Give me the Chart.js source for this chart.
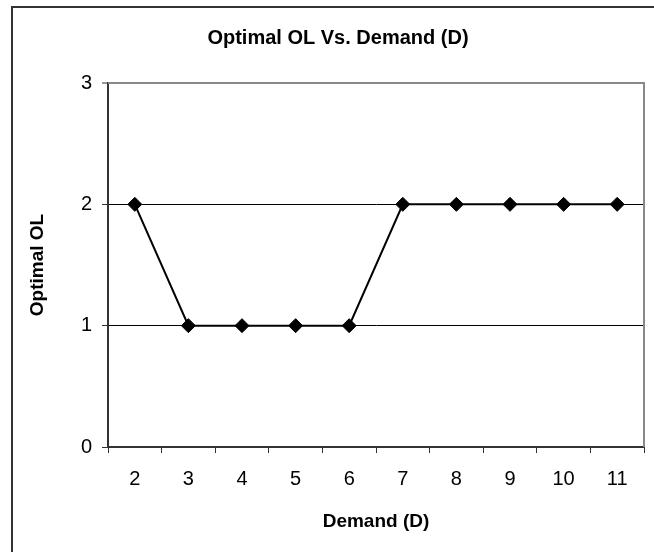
<!DOCTYPE html>
<html>
<head>
<meta charset="utf-8">
<script src="https://cdn.jsdelivr.net/npm/chart.js@4"></script>
<style>
  html, body { margin: 0; padding: 0; background: #fff; }
  canvas { display: block; }
</style>
</head>
<body>
<canvas id="grafico" width="654" height="552"></canvas>
<script>
// demanda (eje x) y OL optimo (eje y)
const demanda = ['2', '3', '4', '5', '6', '7', '8', '9', '10', '11'];
const olOptimo = [2, 1, 1, 1, 1, 2, 2, 2, 2, 2];
const ticksY = [0, 1, 2, 3];

const titulo = 'Optimal OL Vs. Demand (D)';
const tituloX = 'Demand (D)';
const tituloY = 'Optimal OL';

const fuente = 'Arial, "Liberation Sans", sans-serif';

// marco exterior, borde gris del area y titulo
const marco = {
  id: 'marco',
  beforeDraw(chart) {
    const c = chart.ctx;
    c.save();
    c.fillStyle = '#fff';
    c.fillRect(0, 0, chart.width, chart.height);
    c.fillStyle = '#333';
    c.fillRect(11, 6, 2, chart.height - 6);
    c.fillRect(11, 6, chart.width - 11, 2);
    c.restore();
  },
  beforeDatasetsDraw(chart) {
    const a = chart.chartArea;
    const c = chart.ctx;
    c.save();
    c.strokeStyle = '#888';
    c.lineWidth = 2;
    c.beginPath();
    c.moveTo(a.left, a.top);
    c.lineTo(a.right, a.top);
    c.lineTo(a.right, a.bottom);
    c.stroke();
    c.restore();
  },
  afterDraw(chart) {
    const c = chart.ctx;
    c.save();
    c.fillStyle = '#000';
    c.font = 'bold 20px ' + fuente;
    c.textAlign = 'center';
    c.textBaseline = 'middle';
    c.fillText(titulo, 338, 38);
    c.restore();
  }
};

new Chart(document.getElementById('grafico'), {
  type: 'line',
  data: {
    labels: demanda,
    datasets: [{
      data: olOptimo,
      borderColor: '#000',
      backgroundColor: '#000',
      borderWidth: 2,
      pointStyle: 'rectRot',
      pointRadius: 7,
      pointBorderWidth: 1,
      pointBackgroundColor: '#000',
      pointBorderColor: '#000',
      tension: 0,
      fill: false
    }]
  },
  options: {
    responsive: false,
    animation: false,
    layout: { padding: { left: 0, right: 10, top: 83, bottom: 0 } },
    plugins: {
      legend: { display: false },
      tooltip: { enabled: false }
    },
    scales: {
      x: {
        offset: true,
        afterFit(s) { s.height = 105; },
        grid: {
          offset: true,
          drawOnChartArea: false,
          drawTicks: true,
          tickLength: 6,
          tickColor: '#333',
          tickWidth: 1
        },
        border: { display: true, color: '#333', width: 2 },
        ticks: {
          color: '#000',
          font: { family: fuente, size: 20 },
          padding: 14,
          maxRotation: 0
        },
        title: {
          display: true,
          text: tituloX,
          color: '#000',
          font: { family: fuente, size: 19, weight: 'bold' },
          padding: { top: 0, bottom: 19 }
        }
      },
      y: {
        min: 0,
        max: 3,
        afterFit(s) { s.width = 108; },
        afterBuildTicks(s) { s.ticks = ticksY.map(v => ({ value: v })); },
        grid: {
          color: ctx => (ctx.tick && ctx.tick.value === 3) ? '#888' : '#000',
          lineWidth: ctx => (ctx.tick && ctx.tick.value === 3) ? 2 : 1,
          tickLength: 6,
          tickColor: '#333',
          tickWidth: 1
        },
        border: { display: true, color: '#333', width: 2 },
        ticks: {
          color: '#000',
          font: { family: fuente, size: 20 },
          padding: 10
        },
        title: {
          display: true,
          text: tituloY,
          color: '#000',
          font: { family: fuente, size: 19, weight: 'bold' },
          padding: { top: 26, bottom: 0 }
        }
      }
    }
  },
  plugins: [marco]
});
</script>
</body>
</html>
